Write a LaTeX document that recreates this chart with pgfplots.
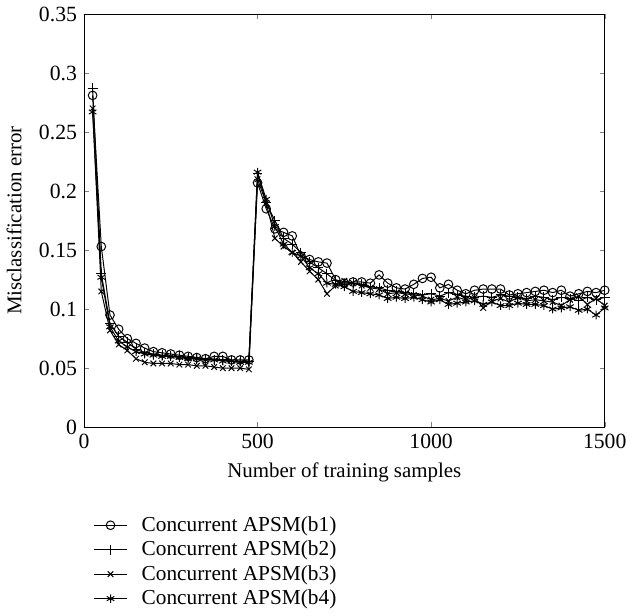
\documentclass[border=0pt]{standalone}
\usepackage{pgfplots}
\pgfplotsset{compat=1.18}
\usepackage{fontspec}
\setmainfont{Liberation Serif}
\begin{document}
\begin{tikzpicture}
\begin{axis}[
  scale only axis, width=264pt, height=209.5pt,
  xmin=0, xmax=1500, ymin=0, ymax=0.35,
  xtick={0,500,1000,1500}, ytick={0,0.05,...,0.35},
  xticklabels={0,500,1000,1500},
  yticklabels={0,0.05,0.1,0.15,0.2,0.25,0.3,0.35},
  /pgf/number format/assume math mode=true,
  /pgf/number format/1000 sep={},
  tick align=inside, major tick length=2.5pt,
  xlabel={Number of training samples}, ylabel={Misclassification error},
  ylabel style={yshift=2pt},
  every axis plot/.append style={black, line width=0.5pt},
  mark options={solid, line width=0.5pt},
  legend style={draw=none, fill=none, at={(1.5pt,-41pt)}, anchor=north west, font=\fontsize{10.8}{12}\selectfont, row sep=-0.6pt,
    /tikz/every odd column/.append style={column sep=5pt}},
  legend cell align=left,
  tick label style={font=\fontsize{11}{12}\selectfont},
  label style={font=\fontsize{10.6}{12}\selectfont},
]
\addplot[mark=o, mark size=2.2pt] coordinates {
(25,0.281)(50,0.153)(75,0.095)(100,0.083)(125,0.075)(150,0.071)(175,0.067)(200,0.064)(225,0.063)(250,0.062)(275,0.061)(300,0.060)(325,0.059)(350,0.058)(375,0.060)(400,0.060)(425,0.057)(450,0.057)(475,0.057)
(500,0.207)(525,0.185)(550,0.168)(575,0.165)(600,0.162)(625,0.145)(650,0.142)(675,0.140)(700,0.139)(725,0.125)(750,0.122)(775,0.123)(800,0.123)(825,0.122)(850,0.129)(875,0.122)(900,0.118)(925,0.117)(950,0.121)(975,0.126)(1000,0.127)(1025,0.118)(1050,0.121)(1075,0.116)(1100,0.113)(1125,0.116)(1150,0.117)(1175,0.117)(1200,0.117)(1225,0.112)(1250,0.113)(1275,0.114)(1300,0.115)(1325,0.116)(1350,0.114)(1375,0.116)(1400,0.111)(1425,0.113)(1450,0.115)(1475,0.114)(1500,0.116)};
\addlegendentry{Concurrent APSM(b1)}
\addplot[mark=+, mark size=2.5pt] coordinates {
(25,0.287)(50,0.130)(75,0.088)(100,0.077)(125,0.072)(150,0.066)(175,0.063)(200,0.062)(225,0.061)(250,0.060)(275,0.060)(300,0.059)(325,0.058)(350,0.057)(375,0.057)(400,0.057)(425,0.056)(450,0.056)(475,0.056)
(500,0.215)(525,0.190)(550,0.175)(575,0.160)(600,0.155)(625,0.148)(650,0.140)(675,0.135)(700,0.130)(725,0.124)(750,0.121)(775,0.122)(800,0.121)(825,0.119)(850,0.118)(875,0.116)(900,0.115)(925,0.114)(950,0.113)(975,0.112)(1000,0.113)(1025,0.111)(1050,0.114)(1075,0.112)(1100,0.111)(1125,0.110)(1150,0.111)(1175,0.110)(1200,0.112)(1225,0.111)(1250,0.110)(1275,0.109)(1300,0.111)(1325,0.110)(1350,0.108)(1375,0.110)(1400,0.109)(1425,0.107)(1450,0.110)(1475,0.108)(1500,0.110)};
\addlegendentry{Concurrent APSM(b2)}
\addplot[mark=x, mark size=2pt] coordinates {
(25,0.270)(50,0.115)(75,0.082)(100,0.070)(125,0.065)(150,0.058)(175,0.055)(200,0.054)(225,0.054)(250,0.054)(275,0.053)(300,0.053)(325,0.052)(350,0.052)(375,0.051)(400,0.050)(425,0.050)(450,0.050)(475,0.049)
(500,0.210)(525,0.190)(550,0.160)(575,0.153)(600,0.148)(625,0.140)(650,0.132)(675,0.125)(700,0.113)(725,0.120)(750,0.124)(775,0.122)(800,0.120)(825,0.118)(850,0.117)(875,0.113)(900,0.114)(925,0.113)(950,0.112)(975,0.111)(1000,0.108)(1025,0.109)(1050,0.107)(1075,0.110)(1100,0.108)(1125,0.110)(1150,0.101)(1175,0.107)(1200,0.109)(1225,0.106)(1250,0.110)(1275,0.107)(1300,0.108)(1325,0.107)(1350,0.106)(1375,0.103)(1400,0.108)(1425,0.111)(1450,0.104)(1475,0.109)(1500,0.103)};
\addlegendentry{Concurrent APSM(b3)}
\addplot[mark=asterisk, mark size=2.2pt] coordinates {
(25,0.267)(50,0.127)(75,0.085)(100,0.073)(125,0.068)(150,0.064)(175,0.062)(200,0.061)(225,0.060)(250,0.060)(275,0.059)(300,0.058)(325,0.058)(350,0.057)(375,0.057)(400,0.056)(425,0.056)(450,0.055)(475,0.055)
(500,0.216)(525,0.193)(550,0.170)(575,0.155)(600,0.148)(625,0.145)(650,0.135)(675,0.130)(700,0.122)(725,0.121)(750,0.119)(775,0.115)(800,0.114)(825,0.113)(850,0.112)(875,0.109)(900,0.110)(925,0.109)(950,0.110)(975,0.108)(1000,0.106)(1025,0.108)(1050,0.104)(1075,0.105)(1100,0.106)(1125,0.107)(1150,0.104)(1175,0.106)(1200,0.103)(1225,0.103)(1250,0.105)(1275,0.104)(1300,0.104)(1325,0.103)(1350,0.100)(1375,0.101)(1400,0.102)(1425,0.099)(1450,0.100)(1475,0.095)(1500,0.101)};
\addlegendentry{Concurrent APSM(b4)}
\end{axis}
\end{tikzpicture}
\end{document}
